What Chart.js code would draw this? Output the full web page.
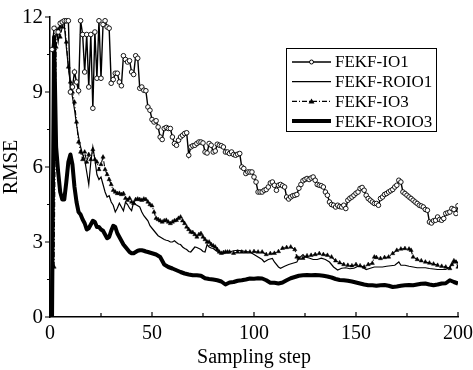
<!DOCTYPE html>
<html>
<head>
<meta charset="utf-8">
<script src="https://cdn.jsdelivr.net/npm/chart.js@4/dist/chart.umd.min.js"></script>
<style>
  html, body { margin: 0; padding: 0; background: #fff; }
  #wrap { width: 473px; height: 370px; }
</style>
</head>
<body>
<div id="wrap"><canvas id="chart"></canvas></div>
<script>
// RMSE readings per sampling step
const seriesNames = ['FEKF-IO1', 'FEKF-ROIO1', 'FEKF-IO3', 'FEKF-ROIO3'];
const xTicks = [0, 50, 100, 150, 200];
const yTicks = [0, 3, 6, 9, 12];

const io1Steps = [];
for (let i = 1; i <= 200; i++) io1Steps.push(i);
const io1Values = [
    10.7, 11.55, 11.4, 11.4, 11.75, 11.8, 11.85, 11.85, 11.85, 9.0,
    9.2, 9.8, 9.4, 9.05, 11.85, 11.3, 9.8, 11.3, 9.2, 11.3,
    8.35, 11.4, 9.55, 11.85, 9.55, 11.7, 11.85, 11.6, 11.55, 9.35,
    9.5, 9.75, 9.75, 9.4, 9.25, 10.45, 10.3, 10.2, 10.25, 9.8,
    9.7, 10.45, 10.35, 9.15, 9.2, 9.07, 9.05, 8.4, 8.27, 7.9,
    7.8, 7.85, 7.6, 7.2, 7.1, 7.54, 7.58, 7.54, 7.54, 7.2,
    6.94, 6.87, 7.07, 7.2, 7.27, 7.34, 7.37, 6.47, 6.8, 6.85,
    6.87, 6.94, 7.0, 7.0, 6.96, 6.6, 6.56, 6.94, 6.87, 6.6,
    6.64, 6.91, 6.87, 6.85, 6.8, 6.6, 6.6, 6.54, 6.6, 6.5,
    6.47, 6.51, 6.54, 6.0, 5.94, 5.74, 5.8, 5.8, 5.8, 5.6,
    5.4, 5.0, 5.0, 5.0, 5.07, 5.1, 5.2, 5.36, 5.4, 5.27,
    5.07, 5.27, 5.3, 5.25, 5.2, 4.8, 4.72, 4.8, 4.85, 4.87,
    4.9, 5.15, 5.3, 5.45, 5.5, 5.54, 5.5, 5.56, 5.6, 5.47,
    5.3, 5.27, 5.25, 5.2, 5.0, 4.87, 4.6, 4.5, 4.47, 4.4,
    4.47, 4.42, 4.4, 4.47, 4.34, 4.67, 4.75, 4.8, 4.87, 4.95,
    5.0, 5.14, 5.18, 5.07, 4.87, 4.74, 4.67, 4.6, 4.54, 4.54,
    4.47, 4.74, 4.8, 4.9, 4.94, 5.0, 5.05, 5.1, 5.2, 5.27,
    5.47, 5.4, 5.0, 4.94, 4.87, 4.8, 4.74, 4.67, 4.6, 4.54,
    4.47, 4.44, 4.4, 4.3, 4.27, 3.8, 3.76, 3.85, 3.87, 4.0,
    3.9, 3.87, 3.94, 4.14, 4.17, 4.2, 4.34, 4.3, 4.14, 4.45
];

const roio1Steps = [
    0, 1, 2, 3, 4, 5, 6, 7, 8, 9, 10, 11, 12, 13, 14, 15, 16, 17, 18, 19,
    20, 21, 22, 23, 24, 25, 26, 27, 28, 29, 30, 31, 32, 33, 34, 35, 36, 37, 38, 39,
    40, 41, 42, 43, 44, 45, 46, 47, 48, 49, 50, 51, 52, 53, 54, 55, 56, 57, 58, 59,
    60, 61, 62, 63, 64, 65, 66, 67, 68, 69, 70, 71, 72, 73, 74, 75, 76, 77, 78, 79,
    80, 82, 84, 86, 88, 90, 92, 94, 96, 98, 100, 102, 104, 105, 107, 109, 110, 112, 113, 115,
    117, 119, 121, 122, 124, 125, 127, 129, 131, 133, 135, 137, 139, 141, 143, 145, 147, 149, 151, 153,
    155, 157, 159, 161, 163, 165, 167, 169, 171, 172, 174, 176, 178, 180, 182, 184, 186, 188, 190, 192,
    194, 196, 197, 198, 199, 200
];
const roio1Values = [
    0, 3.0, 10.0, 11.5, 11.0, 11.6, 11.8, 11.7, 10.8, 10.0, 9.3, 8.8, 8.3, 7.7, 7.2, 6.8, 6.5, 6.3, 5.8, 5.3,
    6.2, 6.8, 6.3, 5.7, 5.5, 5.6, 5.3, 5.0, 4.8, 4.85, 4.6, 4.47, 4.2, 4.35, 4.55, 4.4, 4.25, 4.6, 4.5, 4.35,
    4.25, 4.6, 4.5, 4.45, 4.4, 4.2, 4.05, 3.95, 3.85, 3.65, 3.55, 3.45, 3.35, 3.25, 3.2, 3.15, 3.1, 3.07, 3.05, 3.0,
    3.0, 3.05, 2.98, 2.92, 2.9, 2.8, 2.74, 2.7, 2.62, 2.6, 2.7, 2.8, 2.78, 2.74, 2.7, 2.62, 2.6, 2.9, 2.8, 2.76,
    2.74, 2.62, 2.54, 2.58, 2.6, 2.65, 2.67, 2.65, 2.62, 2.6, 2.5, 2.4, 2.3, 2.2, 2.3, 2.34, 2.2, 2.0, 1.95, 2.03,
    2.1, 2.15, 2.2, 2.35, 2.5, 2.4, 2.36, 2.3, 2.3, 2.35, 2.3, 2.2, 2.0, 1.88, 1.95, 1.97, 1.93, 1.95, 2.03, 2.0,
    1.9, 1.95, 2.0, 2.0, 2.0, 2.03, 2.05, 2.07, 2.2, 2.07, 2.07, 2.03, 2.0, 1.97, 1.97, 1.97, 1.94, 1.92, 1.9, 1.9,
    1.9, 2.0, 2.1, 2.2, 2.25, 2.15
];

const io3Steps = [
    2, 3, 4, 5, 6, 7, 8, 9, 10, 11, 12, 13, 14, 15, 16, 17, 18, 19, 20, 21,
    22, 23, 24, 25, 26, 27, 28, 29, 30, 31, 32, 33, 34, 35, 36, 37, 38, 39, 40, 41,
    42, 43, 44, 45, 46, 47, 48, 49, 50, 51, 52, 53, 54, 55, 56, 57, 58, 59, 60, 61,
    62, 63, 64, 65, 66, 67, 68, 69, 70, 71, 72, 73, 74, 75, 76, 77, 78, 79, 80, 81,
    82, 83, 84, 85, 86, 87, 88, 90, 92, 94, 96, 98, 100, 102, 104, 106, 108, 110, 112, 114,
    116, 118, 120, 121, 122, 124, 126, 128, 130, 132, 134, 136, 138, 140, 142, 144, 146, 148, 150, 152,
    154, 156, 158, 159, 160, 162, 164, 166, 168, 170, 172, 174, 176, 177, 178, 180, 182, 184, 186, 188,
    190, 192, 194, 196, 197, 198, 199, 200
];
const io3Values = [
    2.0, 10.8, 11.5, 11.2, 11.6, 11.8, 11.0, 10.0, 9.4, 9.0, 8.6, 7.8, 7.0, 6.6, 6.3, 6.6, 6.2, 6.5, 6.3, 6.7,
    6.3, 6.2, 5.9, 6.1, 6.4, 5.9, 5.7, 5.5, 5.3, 5.07, 5.0, 4.94, 4.95, 4.9, 4.94, 4.75, 4.67, 4.75, 4.6, 4.54,
    4.7, 4.72, 4.7, 4.67, 4.72, 4.7, 4.6, 4.5, 4.45, 4.2, 3.95, 3.9, 3.85, 3.8, 3.85, 3.87, 3.8, 3.74, 3.8, 3.85,
    3.87, 3.95, 4.0, 3.85, 3.74, 3.6, 3.5, 3.4, 3.38, 3.3, 3.2, 3.3, 3.34, 3.2, 3.1, 3.0, 3.0, 2.9, 2.85, 2.8,
    2.7, 2.6, 2.55, 2.58, 2.6, 2.6, 2.6, 2.55, 2.6, 2.6, 2.6, 2.6, 2.62, 2.6, 2.6, 2.5, 2.54, 2.55, 2.62, 2.75,
    2.78, 2.8, 2.7, 2.4, 2.35, 2.35, 2.45, 2.47, 2.5, 2.54, 2.5, 2.47, 2.4, 2.25, 2.17, 2.1, 2.07, 2.05, 2.1, 2.05,
    2.0, 2.1, 2.15, 2.4, 2.38, 2.34, 2.38, 2.4, 2.54, 2.67, 2.72, 2.74, 2.72, 2.67, 2.4, 2.3, 2.25, 2.2, 2.16, 2.12,
    2.07, 2.03, 2.0, 1.94, 2.1, 2.25, 2.2, 2.0
];

const roio3Steps = [
    0, 1, 2, 3, 4, 5, 6, 7, 8, 9, 10, 11, 12, 13, 14, 15, 16, 17, 18, 19,
    20, 21, 22, 23, 24, 25, 26, 27, 28, 29, 30, 31, 32, 33, 34, 35, 36, 37, 38, 39,
    40, 41, 42, 43, 44, 45, 46, 47, 48, 50, 52, 54, 56, 58, 60, 62, 64, 66, 68, 70,
    72, 74, 76, 78, 80, 82, 84, 86, 88, 90, 92, 94, 96, 98, 100, 102, 104, 106, 108, 110,
    112, 114, 116, 118, 120, 122, 124, 126, 128, 130, 132, 134, 136, 138, 140, 142, 144, 146, 148, 150,
    152, 154, 156, 158, 160, 162, 164, 166, 168, 170, 172, 174, 176, 178, 180, 182, 184, 186, 188, 190,
    192, 194, 196, 198, 200
];
const roio3Values = [
    0, 0, 11.2, 6.8, 5.8, 5.0, 4.7, 4.7, 5.4, 6.2, 6.5, 6.1, 5.2, 4.6, 4.2, 4.1, 3.9, 3.75, 3.5, 3.55,
    3.7, 3.85, 3.8, 3.6, 3.6, 3.5, 3.45, 3.3, 3.15, 3.2, 3.45, 3.65, 3.6, 3.35, 3.2, 3.05, 2.9, 2.8, 2.7, 2.6,
    2.55, 2.55, 2.6, 2.65, 2.67, 2.67, 2.65, 2.62, 2.6, 2.55, 2.5, 2.4, 2.1, 2.0, 1.94, 1.87, 1.8, 1.74, 1.7, 1.67,
    1.67, 1.65, 1.55, 1.52, 1.5, 1.47, 1.42, 1.3, 1.38, 1.4, 1.45, 1.47, 1.5, 1.54, 1.53, 1.55, 1.54, 1.47, 1.37, 1.37,
    1.34, 1.38, 1.47, 1.55, 1.6, 1.65, 1.67, 1.68, 1.67, 1.68, 1.67, 1.65, 1.62, 1.58, 1.52, 1.48, 1.47, 1.45, 1.42, 1.38,
    1.34, 1.3, 1.27, 1.27, 1.25, 1.27, 1.28, 1.25, 1.2, 1.22, 1.25, 1.27, 1.28, 1.27, 1.3, 1.33, 1.34, 1.3, 1.27, 1.3,
    1.34, 1.35, 1.47, 1.4, 1.34
];

function toPoints(steps, values) {
    return steps.map((s, i) => ({ x: s, y: values[i] }));
}

const serif = '"Liberation Serif", "DejaVu Serif", serif';

// Small tick marks: y outward, x inward, minor halfway between majors
const tickMarks = {
    id: 'tickMarks',
    afterDraw(chart) {
        const ctx = chart.ctx;
        const xs = chart.scales.x, ys = chart.scales.y;
        const area = chart.chartArea;
        ctx.save();
        ctx.strokeStyle = '#000';
        ctx.lineWidth = 1.2;
        ctx.beginPath();
        for (let v = 0; v <= 12; v += 1.5) {
            const py = ys.getPixelForValue(v);
            const len = (v % 3 === 0) ? 5 : 3;
            ctx.moveTo(area.left - len, py);
            ctx.lineTo(area.left, py);
        }
        for (let v = 0; v <= 200; v += 25) {
            const px = xs.getPixelForValue(v);
            const len = (v % 50 === 0) ? 5 : 4;
            ctx.moveTo(px, area.bottom);
            ctx.lineTo(px, area.bottom - len);
        }
        ctx.stroke();
        ctx.restore();
    }
};

// Boxed legend with line samples
const boxLegend = {
    id: 'boxLegend',
    afterDraw(chart) {
        const ctx = chart.ctx;
        const left = 286, top = 48, right = 436, bottom = 131;
        ctx.save();
        ctx.fillStyle = '#fff';
        ctx.fillRect(left, top, right - left, bottom - top);
        ctx.strokeStyle = '#000';
        ctx.lineWidth = 1;
        ctx.strokeRect(left + 0.5, top + 0.5, right - left, bottom - top);
        chart.data.datasets.forEach((ds, i) => {
            const y = 62 + i * 19.7;
            ctx.beginPath();
            ctx.setLineDash(ds.borderDash || []);
            ctx.lineWidth = ds.borderWidth;
            ctx.strokeStyle = '#000';
            ctx.moveTo(292, y);
            ctx.lineTo(331, y);
            ctx.stroke();
            ctx.setLineDash([]);
            if (ds.pointStyle === 'circle') {
                ctx.beginPath();
                ctx.arc(311.5, y, 2, 0, Math.PI * 2);
                ctx.fillStyle = '#fff';
                ctx.fill();
                ctx.lineWidth = 1;
                ctx.stroke();
            } else if (ds.pointStyle === 'triangle') {
                ctx.beginPath();
                ctx.moveTo(311.5, y - 3);
                ctx.lineTo(314.5, y + 2);
                ctx.lineTo(308.5, y + 2);
                ctx.closePath();
                ctx.fillStyle = '#000';
                ctx.fill();
            }
            ctx.fillStyle = '#000';
            ctx.font = '17px ' + serif;
            ctx.textBaseline = 'middle';
            ctx.fillText(ds.label, 335, y + 1);
        });
        ctx.restore();
    }
};

new Chart(document.getElementById('chart'), {
    type: 'line',
    data: {
        datasets: [
            {
                label: seriesNames[0],
                data: toPoints(io1Steps, io1Values),
                borderColor: '#000',
                borderWidth: 1.4,
                pointStyle: 'circle',
                pointRadius: 2.3,
                pointBorderWidth: 0.9,
                pointBackgroundColor: '#fff',
                pointBorderColor: '#000'
            },
            {
                label: seriesNames[1],
                data: toPoints(roio1Steps, roio1Values),
                borderColor: '#000',
                borderWidth: 1.2,
                pointRadius: 0
            },
            {
                label: seriesNames[2],
                data: toPoints(io3Steps, io3Values),
                borderColor: '#000',
                borderWidth: 1.1,
                borderDash: [5, 2, 1, 2],
                pointStyle: 'triangle',
                pointRadius: 2.4,
                pointBorderWidth: 0.5,
                pointBackgroundColor: '#000',
                pointBorderColor: '#000'
            },
            {
                label: seriesNames[3],
                data: toPoints(roio3Steps, roio3Values),
                borderColor: '#000',
                borderWidth: 4,
                pointRadius: 0,
                borderJoinStyle: 'round'
            }
        ]
    },
    options: {
        responsive: true,
        maintainAspectRatio: false,
        animation: false,
        events: [],
        layout: { padding: { left: 0, right: 15, top: 17, bottom: 0 } },
        elements: { line: { tension: 0 } },
        plugins: {
            legend: { display: false },
            tooltip: { enabled: false }
        },
        scales: {
            x: {
                type: 'linear',
                min: 0,
                max: 200,
                afterBuildTicks(scale) { scale.ticks = xTicks.map(v => ({ value: v })); },
                afterFit(scale) {
                    scale.height = 53;
                    scale.paddingLeft = 0;
                    scale.paddingRight = 0;
                },
                grid: { display: false, drawTicks: false },
                border: { display: true, color: '#000', width: 1.5 },
                ticks: { color: '#000', padding: 5, maxRotation: 0, font: { family: serif, size: 20 } },
                title: {
                    display: true,
                    text: 'Sampling step',
                    color: '#000',
                    padding: { top: 0, bottom: 0 },
                    font: { family: serif, size: 20 }
                }
            },
            y: {
                min: 0,
                max: 12,
                afterBuildTicks(scale) { scale.ticks = yTicks.map(v => ({ value: v })); },
                afterFit(scale) {
                    scale.width = 50;
                    scale.paddingTop = 0;
                    scale.paddingBottom = 0;
                },
                grid: { display: false, drawTicks: false },
                border: { display: true, color: '#000', width: 1.5 },
                ticks: { color: '#000', padding: 7, font: { family: serif, size: 21 } },
                title: {
                    display: true,
                    text: 'RMSE',
                    color: '#000',
                    padding: { top: 0, bottom: 0 },
                    font: { family: serif, size: 20 }
                }
            }
        }
    },
    plugins: [tickMarks, boxLegend]
});
</script>
</body>
</html>
